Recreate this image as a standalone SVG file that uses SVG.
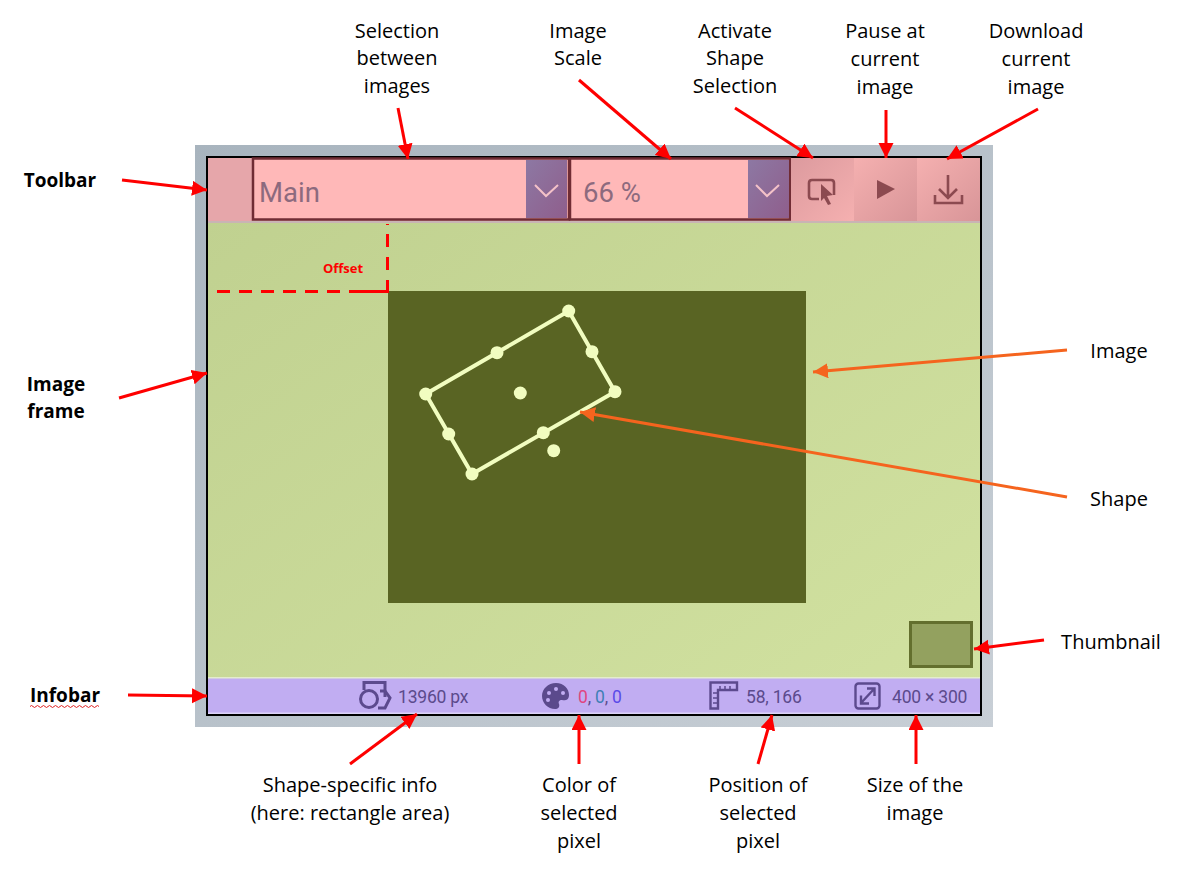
<svg xmlns="http://www.w3.org/2000/svg" width="1189" height="871" viewBox="0 0 1189 871">
<style>
.lbl{font-family:"Open Sans","Noto Sans",sans-serif;font-size:20px;fill:#000;text-anchor:middle}
.bold{font-family:"Open Sans",sans-serif;font-weight:700;font-size:19px}
.ui{font-family:Roboto,"Liberation Sans",sans-serif}
.conn{fill:none;stroke:#fe0000;stroke-width:3}
.org{fill:none;stroke:#f5641e;stroke-width:3}
.hdl{fill:#f1fdc0}
.ico{fill:none;stroke:#8c4a50;stroke-width:2.6}
.inf{fill:none;stroke:#5c4a8e;stroke-width:2.4}
.info{font-family:Roboto,"Liberation Sans",sans-serif;font-size:17.5px;fill:#5b4a8c;letter-spacing:-0.2px}
</style>
<defs>
<marker id="ah" markerUnits="userSpaceOnUse" markerWidth="16" markerHeight="16" refX="15" refY="7.500" orient="auto"><path d="M0 0L15 7.500L0 15z" fill="#fe0000"/></marker>
<marker id="ao" markerUnits="userSpaceOnUse" markerWidth="16" markerHeight="16" refX="15" refY="7.500" orient="auto"><path d="M0 0L15 7.500L0 15z" fill="#f5641e"/></marker>
<linearGradient id="fr" x1="0" y1="0" x2="1" y2="1"><stop offset="0" stop-color="#a8b4be"/><stop offset="1" stop-color="#c8cfd6"/></linearGradient>
<linearGradient id="cv" x1="0" y1="0" x2="1" y2="1"><stop offset="0" stop-color="#bfd08f"/><stop offset="1" stop-color="#d2e2a1"/></linearGradient>
<linearGradient id="dd" x1="0" y1="0" x2="1" y2="1"><stop offset="0" stop-color="#8d78a3"/><stop offset="1" stop-color="#8f5e8c"/></linearGradient>
<linearGradient id="btn" x1="0" y1="0" x2="1" y2="1"><stop offset="0" stop-color="#dc9a9e"/><stop offset="1" stop-color="#f5b0b0"/></linearGradient>
<linearGradient id="btn2" x1="0" y1="0" x2="1" y2="1"><stop offset="0" stop-color="#f5b0b0"/><stop offset="1" stop-color="#d89598"/></linearGradient>
</defs>

<g id="image-frame">
<rect x="195" y="145" width="798" height="582" fill="url(#fr)"/>
<rect x="207" y="157" width="774" height="558" fill="url(#cv)" stroke="#000" stroke-width="2"/>
</g>

<g id="toolbar">
<rect x="208" y="158" width="772" height="64" fill="#e6a6aa"/>
<rect x="208" y="221" width="772" height="2" fill="#c9b4b4"/>
<rect id="image-select" x="253" y="158.500" width="316" height="61" fill="#ffb8b8" stroke="#702c34" stroke-width="2.500"/>
<rect x="526" y="160" width="41" height="58" fill="url(#dd)"/>
<path d="M535 185L546 196L558 185" fill="none" stroke="#f4c2c8" stroke-width="2"/>
<text class="ui" x="259" y="202" font-size="27.500" fill="#8d6a7e">Main</text>
<rect id="scale-select" x="570" y="158.500" width="220" height="61" fill="#ffb8b8" stroke="#702c34" stroke-width="2.500"/>
<rect x="748" y="160" width="41" height="58" fill="url(#dd)"/>
<path d="M756 185L767 196L779 185" fill="none" stroke="#f4c2c8" stroke-width="2"/>
<text class="ui" x="583" y="202" font-size="27.500" fill="#8d6a7e">66 %</text>
<g id="shape-button">
<rect x="791" y="158" width="63" height="63" fill="url(#btn)"/>
<path class="ico" d="M819 199H812Q809 199 809 196V183Q809 180 812 180H831Q834 180 834 183V195"/>
<path d="M821 184L833 195L827 196L831 204L828 205L824 198L821 201z" fill="#8c4a50"/>
</g>
<g id="pause-button">
<rect x="854" y="158" width="63" height="63" fill="url(#btn2)"/>
<path d="M877 180L895 189L877 199z" fill="#8c4a50"/>
</g>
<g id="download-button">
<rect x="917" y="158" width="63" height="63" fill="url(#btn2)"/>
<path class="ico" d="M948 175V197M939 189L948 198L957 189M935 195V203H962V195"/>
</g>
</g>

<g id="image">
<rect x="388" y="291" width="418" height="312" fill="#596423"/>
</g>

<g id="shape">
<path d="M568.700 311L615 391.700L472 474L425.700 394z" fill="none" stroke="#f1fdc0" stroke-width="4"/>
<circle class="hdl" cx="568.700" cy="311" r="6.500"/>
<circle class="hdl" cx="615" cy="391.700" r="6.500"/>
<circle class="hdl" cx="472" cy="474" r="6.500"/>
<circle class="hdl" cx="425.700" cy="394" r="6.500"/>
<circle class="hdl" cx="497" cy="352.700" r="6.500"/>
<circle class="hdl" cx="592" cy="351.700" r="6.500"/>
<circle class="hdl" cx="543.300" cy="432.700" r="6.500"/>
<circle class="hdl" cx="448.700" cy="434" r="6.500"/>
<circle class="hdl" cx="520.300" cy="393" r="6.500"/>
<circle class="hdl" cx="553.700" cy="450.700" r="6.500"/>
</g>

<g id="thumbnail">
<rect x="910.500" y="622.500" width="61" height="44" fill="#93a15f" stroke="#636f2e" stroke-width="3"/>
</g>

<g id="infobar">
<rect x="208" y="678" width="772" height="36" fill="#c1adf2"/>
<rect x="208" y="677" width="772" height="1.500" fill="#e4eccd"/>
<rect x="208" y="712.500" width="772" height="1.500" fill="#ddd3f8"/>
<g id="area-info">
<path class="inf" style="stroke-width:3" d="M364 690V682.500H385V697"/>
<circle class="inf" cx="369" cy="699" r="8.500" style="stroke-width:3"/>
<path class="inf" style="stroke-width:3" d="M380 691H385L390 698L385 708H378"/>
<text class="info" x="398" y="703">13960 px</text>
</g>
<g id="color-info">
<path d="M556 683C564 683 569 689 569 695C569 700 565 701 562 700C559 700 558 702 559 704C560 707 558 709 555 709C548 709 542 703 542 696C542 689 548 683 556 683z" fill="#5b4a8c"/>
<circle cx="549" cy="693" r="2" fill="#c1adf2"/><circle cx="556" cy="689" r="2" fill="#c1adf2"/><circle cx="563" cy="693" r="2" fill="#c1adf2"/><circle cx="548" cy="700" r="2" fill="#c1adf2"/>
<text class="info" x="578" y="703"><tspan fill="#e0457f">0</tspan><tspan>, </tspan><tspan fill="#3f7fb5">0</tspan><tspan>, </tspan><tspan fill="#5a4ae8">0</tspan></text>
</g>
<g id="position-info">
<path class="inf" d="M710.500 682.500H737V690H718V708.500H710.500z"/>
<path d="M713 693h5M713 698h5M713 703h5M720 686v3M725 686v3M730 686v3" stroke="#5c4a8e" stroke-width="1.500" fill="none"/>
<text class="info" x="746" y="703">58, 166</text>
</g>
<g id="size-info">
<rect class="inf" x="855.500" y="683.500" width="24" height="25" rx="3"/>
<path class="inf" d="M861 703L874 689M867 688.500H874.500V696M861 695.500V703.500H869"/>
<text class="info" x="892" y="703">400 × 300</text>
</g>
</g>

<g id="connectors">
<path class="conn" d="M122 180L207 190" marker-end="url(#ah)"/>
<path class="conn" d="M119 398L207 373" marker-end="url(#ah)"/>
<path class="conn" d="M128 695L207 696" marker-end="url(#ah)"/>
<path class="conn" d="M398 108L408 159" marker-end="url(#ah)"/>
<path class="conn" d="M579 80L671 159" marker-end="url(#ah)"/>
<path class="conn" d="M735 108L813 158" marker-end="url(#ah)"/>
<path class="conn" d="M886 110V158" marker-end="url(#ah)"/>
<path class="conn" d="M1038 109L947 159" marker-end="url(#ah)"/>
<path class="org" d="M1067 350L813 372" marker-end="url(#ao)"/>
<path class="org" d="M1067 497L580 412" marker-end="url(#ao)"/>
<path class="conn" d="M1044 640L974 649" marker-end="url(#ah)"/>
<path class="conn" d="M350 764L417 714" marker-end="url(#ah)"/>
<path class="conn" d="M579 764V715" marker-end="url(#ah)"/>
<path class="conn" d="M758 764L772 715" marker-end="url(#ah)"/>
<path class="conn" d="M916 764V715" marker-end="url(#ah)"/>
<path d="M217 291.500H349" fill="none" stroke="#fe0000" stroke-width="3" stroke-dasharray="13 9"/>
<path d="M349 291.500H386" fill="none" stroke="#fe0000" stroke-width="3"/>
<path d="M387.500 293V224" fill="none" stroke="#fe0000" stroke-width="3" stroke-dasharray="13 10"/>
<path d="M387.500 224V225" fill="none" stroke="#fe0000" stroke-width="3"/>
</g>

<g id="labels">
<text class="lbl bold" x="60" y="187">Toolbar</text>
<text class="lbl bold" x="56" y="391">Image</text>
<text class="lbl bold" x="56" y="418">frame</text>
<text class="lbl bold" x="65" y="702">Infobar</text>
<path d="M30 706.500q1.500-2 3 0t3 0 3 0 3 0 3 0 3 0 3 0 3 0 3 0 3 0 3 0 3 0 3 0 3 0 3 0 3 0 3 0 3 0 3 0 3 0 3 0 3 0 3 0" fill="none" stroke="#e02020" stroke-width="1"/>
<text class="lbl" x="397" y="38">Selection</text><text class="lbl" x="397" y="65">between</text><text class="lbl" x="397" y="93">images</text>
<text class="lbl" x="578" y="38">Image</text><text class="lbl" x="578" y="65">Scale</text>
<text class="lbl" x="735" y="38">Activate</text><text class="lbl" x="735" y="65">Shape</text><text class="lbl" x="735" y="93">Selection</text>
<text class="lbl" x="885" y="38">Pause at</text><text class="lbl" x="885" y="66">current</text><text class="lbl" x="885" y="94">image</text>
<text class="lbl" x="1036" y="38">Download</text><text class="lbl" x="1036" y="66">current</text><text class="lbl" x="1036" y="94">image</text>
<text class="lbl" x="1119" y="358">Image</text>
<text class="lbl" x="1119" y="506">Shape</text>
<text class="lbl" x="1111" y="649">Thumbnail</text>
<text class="lbl" x="350" y="792">Shape-specific info</text><text class="lbl" x="350" y="820">(here: rectangle area)</text>
<text class="lbl" x="579" y="792">Color of</text><text class="lbl" x="579" y="820">selected</text><text class="lbl" x="579" y="848">pixel</text>
<text class="lbl" x="758" y="792">Position of</text><text class="lbl" x="758" y="820">selected</text><text class="lbl" x="758" y="848">pixel</text>
<text class="lbl" x="915" y="792">Size of the</text><text class="lbl" x="915" y="820">image</text>
<text x="343" y="273" font-family="Open Sans,sans-serif" font-size="13" font-weight="700" fill="#fe0000" text-anchor="middle">Offset</text>
</g>
</svg>
